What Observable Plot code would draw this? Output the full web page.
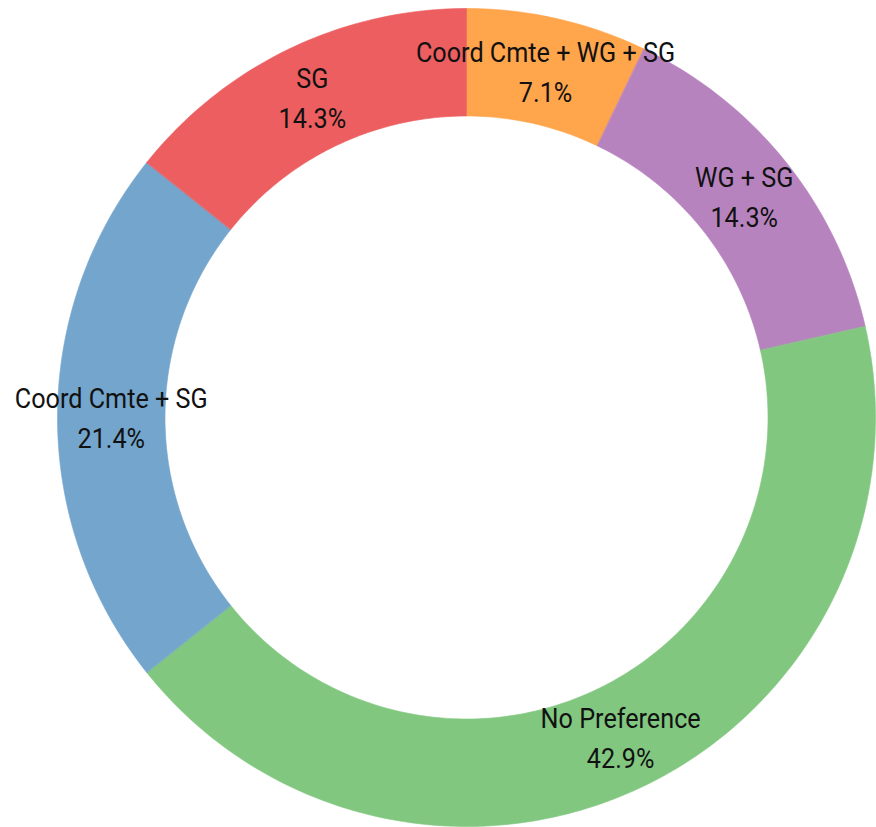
<!DOCTYPE html>
<html>
<head>
<meta charset="utf-8">
<script src="https://cdn.jsdelivr.net/npm/d3@7"></script>
<script src="https://cdn.jsdelivr.net/npm/@observablehq/plot@0.6"></script>
<style>
  html, body { margin: 0; padding: 0; background: #fff; }
  #chart svg { display: block; }
</style>
</head>
<body>
<div id="chart"></div>
<script>
// Slices, clockwise from 12 o'clock
const categories = ["Coord Cmte + WG + SG", "WG + SG", "No Preference", "Coord Cmte + SG", "SG"];
const counts = [1, 2, 6, 3, 2];
const colors = ["#ffa54c", "#b783bf", "#82c780", "#73a5cd", "#ec5e60"];

// Layout constants (pixels)
const W = 876, H = 827;
const cx = 466, cy = 417;
const rOuter = 409, rInner = 301.5;

const total = d3.sum(counts);
const pie = d3.pie().sort(null).value(d => d)(counts);

// Build ring polygons for each slice
const points = [];
pie.forEach((p, i) => {
  const n = Math.max(8, Math.ceil((p.endAngle - p.startAngle) / (2 * Math.PI) * 360));
  const outer = d3.range(n + 1).map(k => p.startAngle + (p.endAngle - p.startAngle) * k / n);
  for (const a of outer) points.push({cat: categories[i], x: rOuter * Math.sin(a), y: -rOuter * Math.cos(a)});
  for (const a of outer.slice().reverse()) points.push({cat: categories[i], x: rInner * Math.sin(a), y: -rInner * Math.cos(a)});
});

const rLabel = (rOuter + rInner) / 2;
const labels = pie.map((p, i) => {
  const a = (p.startAngle + p.endAngle) / 2;
  return {
    cat: categories[i],
    text: categories[i] + "\n" + (counts[i] / total * 100).toFixed(1) + "%",
    x: rLabel * Math.sin(a),
    y: -rLabel * Math.cos(a)
  };
});

const chart = Plot.plot({
  width: W,
  height: H,
  margin: 0,
  x: {domain: [-cx, W - cx], range: [0, W], axis: null},
  y: {domain: [-cy, H - cy], range: [0, H], axis: null},
  color: {domain: categories, range: colors},
  style: {background: "#fff"},
  marks: [
    Plot.line(points, {x: "x", y: "y", z: "cat", fill: "cat", stroke: "cat", strokeWidth: 0.6, curve: "linear-closed"}),
    Plot.text(labels, {x: "x", y: "y", dy: -2, text: "text", fontSize: 28, lineHeight: 1.42, fill: "#111", fontFamily: "Roboto"})
  ]
});
// Condense label glyphs horizontally (the reference uses a condensed face)
chart.querySelectorAll("text").forEach(t => {
  const tr = t.getAttribute("transform");
  if (tr) t.setAttribute("transform", tr + " scale(0.9,1)");
});
document.getElementById("chart").appendChild(chart);
</script>
</body>
</html>
